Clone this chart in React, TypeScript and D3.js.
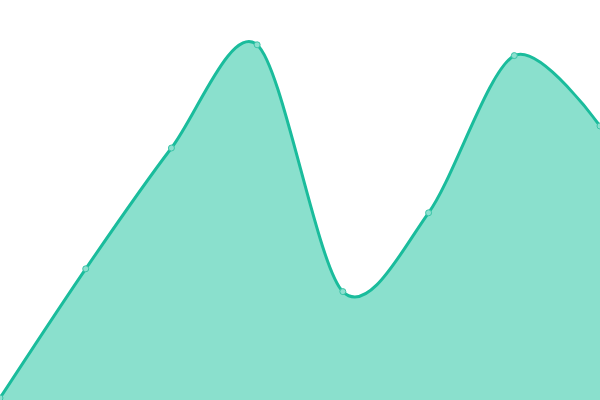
import React, { useEffect, useRef } from 'react';
import * as d3 from 'd3';

const categories = ['A', 'B', 'C', 'D', 'E', 'F', 'G', 'H'];
const values = [0.5, 32.8, 63, 88.8, 27.1, 46.8, 86.1, 68.5];

export default function App() {
  const svgRef = useRef<SVGSVGElement>(null);
  const width = 600;
  const height = 400;

  useEffect(() => {
    if (!svgRef.current) return;
    const svg = d3.select(svgRef.current);
    svg.selectAll('*').remove();

    const data = categories.map((c, i) => ({ c, v: values[i] }));

    const x = d3.scalePoint<string>().domain(categories).range([0, width]);
    const y = d3.scaleLinear().domain([0, 100]).range([height, 0]);

    const curve = d3.curveCardinal.tension(0.1);

    const area = d3.area<{ c: string; v: number }>()
      .x(d => x(d.c)!)
      .y0(height)
      .y1(d => y(d.v))
      .curve(curve);

    const line = d3.line<{ c: string; v: number }>()
      .x(d => x(d.c)!)
      .y(d => y(d.v))
      .curve(curve);

    svg.append('path')
      .datum(data)
      .attr('d', area)
      .attr('fill', '#15c29c')
      .attr('fill-opacity', 0.5);

    svg.append('path')
      .datum(data)
      .attr('d', line)
      .attr('fill', 'none')
      .attr('stroke', '#1abc9c')
      .attr('stroke-width', 3);

    svg.selectAll('circle.pt')
      .data(data)
      .enter()
      .append('circle')
      .attr('class', 'pt')
      .attr('cx', d => x(d.c)!)
      .attr('cy', d => y(d.v))
      .attr('r', 3)
      .attr('fill', '#8ce0cf')
      .attr('stroke', '#3cc4a8')
      .attr('stroke-width', 1);
  }, []);

  return (
    <svg
      ref={svgRef}
      width={width}
      height={height}
      style={{ position: 'absolute', left: 0, top: 0 }}
    />
  );
}
